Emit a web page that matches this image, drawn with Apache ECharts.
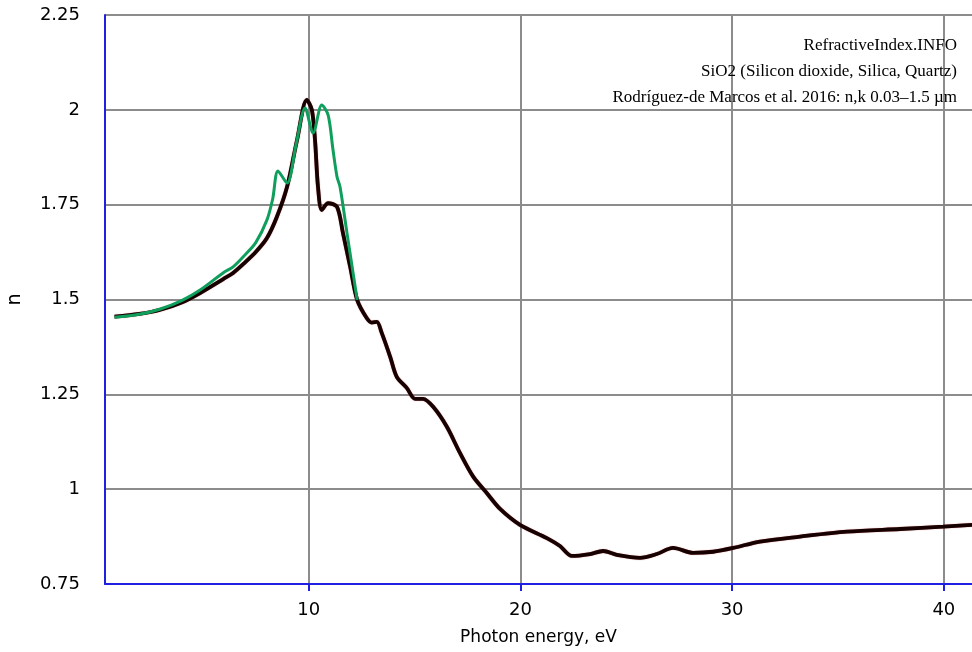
<!DOCTYPE html>
<html>
<head>
<meta charset="utf-8">
<script src="https://cdn.jsdelivr.net/npm/echarts@6/dist/echarts.min.js"></script>
<style>
  html, body { margin: 0; padding: 0; background: #fff; }
  #main { width: 972px; height: 652px; }
</style>
</head>
<body>
<div id="main"></div>
<script>
// n, Rodríguez-de Marcos 2016 (black)
var energyN = [0.83, 2, 3, 4, 4.87, 6, 6.43, 7, 7.5, 8.03, 8.5, 8.98, 9.45, 9.91, 10.15, 10.3, 10.44, 10.62, 10.92, 11.34, 11.62, 11.96, 12.29, 12.74, 12.98, 13.22, 13.45, 13.85, 14.16, 14.63, 15.03, 15.4, 15.88, 16.52, 17.15, 17.77, 18.41, 19.04, 19.98, 21.25, 21.87, 22.43, 23.29, 23.91, 24.55, 25.65, 26.44, 27.21, 28.16, 29.1, 30.05, 31.32, 33.21, 35.42, 37.93, 39.97, 41.33];
var valuesN = [1.455, 1.462, 1.473, 1.492, 1.517, 1.555, 1.570, 1.598, 1.625, 1.662, 1.718, 1.797, 1.920, 2.026, 2.0, 1.920, 1.797, 1.736, 1.754, 1.744, 1.675, 1.586, 1.499, 1.451, 1.439, 1.441, 1.412, 1.349, 1.296, 1.267, 1.238, 1.238, 1.217, 1.165, 1.095, 1.033, 0.990, 0.948, 0.906, 0.871, 0.850, 0.824, 0.829, 0.837, 0.827, 0.819, 0.829, 0.845, 0.832, 0.835, 0.845, 0.862, 0.875, 0.888, 0.895, 0.901, 0.906];

// second data set (green)
var energyG = [0.83, 2, 3, 4, 4.87, 6, 6.43, 7, 7.5, 8.03, 8.3, 8.55, 8.98, 9.4, 9.83, 10.21, 10.62, 10.92, 11.15, 11.34, 11.48, 11.81, 12.29];
var valuesG = [1.453, 1.461, 1.475, 1.497, 1.525, 1.572, 1.586, 1.618, 1.650, 1.710, 1.765, 1.839, 1.807, 1.907, 2.005, 1.939, 2.013, 1.986, 1.894, 1.823, 1.797, 1.675, 1.499];

var xTicks = [10, 20, 30, 40];
var notes = ['RefractiveIndex.INFO', 'SiO2 (Silicon dioxide, Silica, Quartz)', 'Rodríguez-de Marcos et al. 2016: n,k 0.03–1.5 µm'];

function pairs(xs, ys) {
  var out = [];
  for (var i = 0; i < xs.length; i++) out.push([xs[i], ys[i]]);
  return out;
}

var myChart = echarts.init(document.getElementById('main'));
var font = 'DejaVu Sans';

option = {
  animation: false,
  grid: { left: 105, top: 15, right: 0, bottom: 68, containLabel: false, outerBoundsMode: 'none' },
  xAxis: {
    type: 'value',
    min: 0.38,
    max: 41.33,
    name: 'Photon energy, eV',
    nameLocation: 'middle',
    nameGap: 45,
    nameTextStyle: { color: '#000', fontFamily: font, fontSize: 17, verticalAlign: 'top' },
    axisLine: { lineStyle: { color: '#2020e0', width: 2 } },
    axisTick: { show: true, length: 7, customValues: xTicks, lineStyle: { color: '#2020e0', width: 2 } },
    axisLabel: { customValues: xTicks, color: '#000', fontFamily: font, fontSize: 18, margin: 17 },
    splitLine: { show: true, lineStyle: { color: '#8c8c8c', width: 2 } }
  },
  yAxis: {
    type: 'value',
    min: 0.75,
    max: 2.25,
    interval: 0.25,
    name: 'n',
    nameLocation: 'middle',
    nameGap: 80,
    nameTextStyle: { color: '#000', fontFamily: font, fontSize: 19 },
    axisLine: { show: true, lineStyle: { color: '#2020e0', width: 2 } },
    axisTick: { show: false },
    axisLabel: { color: '#000', fontFamily: font, fontSize: 18, margin: 25 },
    splitLine: { show: true, lineStyle: { color: '#8c8c8c', width: 2 } }
  },
  graphic: notes.map(function (t, i) {
    return {
      type: 'text',
      right: 15,
      top: 37 + i * 26,
      z: 10,
      style: { text: t, fill: '#000', font: '17px "Liberation Serif"', textAlign: 'right' }
    };
  }),
  series: [
    {
      type: 'line',
      data: pairs(energyN, valuesN),
      smooth: 0.3,
      symbol: 'none',
      lineStyle: { color: '#160000', width: 3.8, shadowColor: 'rgba(170,0,0,0.6)', shadowBlur: 1 },
      z: 3
    },
    {
      type: 'line',
      data: pairs(energyG, valuesG),
      smooth: 0.3,
      symbol: 'none',
      lineStyle: { color: '#0f9e5c', width: 3 },
      z: 4
    }
  ]
};
myChart.setOption(option);
</script>
</body>
</html>
